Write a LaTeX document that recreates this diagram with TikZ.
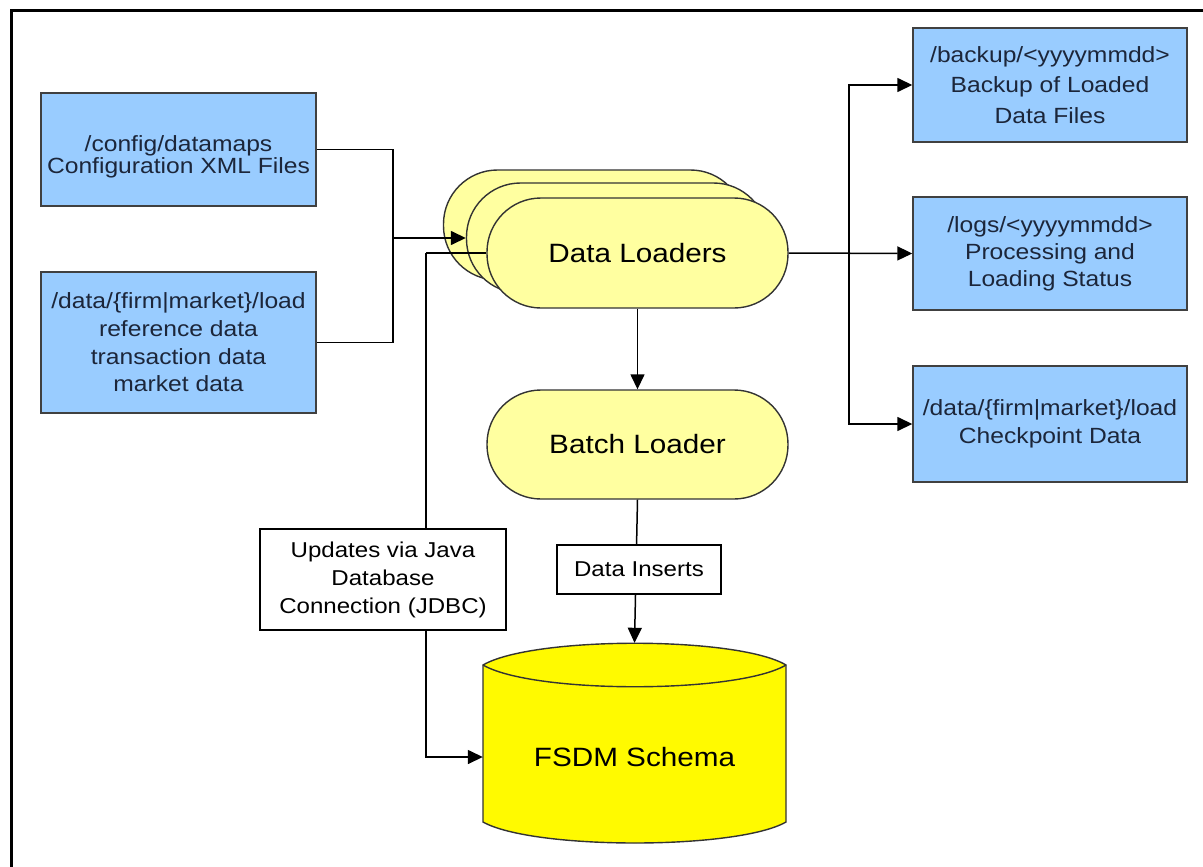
\documentclass[tikz,border=0pt]{standalone}
\usepackage{fontspec}
\setmainfont[FakeStretch=1.12]{Liberation Sans}
\usetikzlibrary{arrows.meta}
\definecolor{boxblue}{RGB}{153,204,255}
\definecolor{lyellow}{RGB}{255,255,160}
\definecolor{cylyellow}{RGB}{255,250,0}
\definecolor{navytext}{RGB}{28,38,58}
\begin{document}
\begin{tikzpicture}[x=1pt,y=-1pt,
  bluebox/.style={draw=black!75,line width=1.4pt,fill=boxblue,text=navytext,align=center,
    font=\fontsize{22}{28}\selectfont,inner sep=0pt,minimum width=275pt},
  boxtext/.style={text=navytext,align=center,inner sep=0pt},
  stadium/.style={draw=black!80,line width=1.4pt,fill=lyellow,rounded corners=54pt,
    minimum width=301pt,minimum height=110pt,font=\fontsize{26.5}{30}\selectfont},
  labelbox/.style={draw=black,line width=1.4pt,fill=white,align=center,
    font=\fontsize{21.5}{28}\selectfont,inner sep=0pt},
  conn/.style={line width=1.5pt,draw=black},
  arr/.style={conn,-{Triangle[length=15pt,width=14pt]}}]
\useasboundingbox (0,0) rectangle (1203,867);
\fill[white] (0,0) rectangle (1203,867);
% outer frame (partly visible)
\draw[line width=3pt] (11.5,870) -- (11.5,10.5) -- (1206,10.5);

% left source boxes
\node[bluebox,minimum height=113pt] (cfg) at (178.5,149.5) {};
\node[boxtext,font=\fontsize{22}{22.3}\selectfont] (cfgtext) at (178.5,156.5) {/config/datamaps\\Configuration XML Files};
\node[bluebox,minimum height=141pt,font=\fontsize{22}{27.7}\selectfont] (data) at (178.5,342.5) {/data/\{firm|market\}/load\\reference data\\transaction data\\market data};

% right target boxes
\node[bluebox,minimum width=274pt,minimum height=114pt,font=\fontsize{22}{30.5}\selectfont] (backup) at (1050,85) {/backup/<yyyymmdd>\\Backup of Loaded\\Data Files};
\node[bluebox,minimum width=274pt,minimum height=113pt,font=\fontsize{22}{27}\selectfont] (logs) at (1050,253.5) {/logs/<yyyymmdd>\\Processing and\\Loading Status};
\node[bluebox,minimum width=274pt,minimum height=116pt] (chk) at (1050,424) {/data/\{firm|market\}/load\\Checkpoint Data};

% data loaders stack
\node[stadium] (dl1) at (594,225) {};
\node[stadium] (dl2) at (617,238) {};
\node[stadium] (dl3) at (637.5,253) {Data Loaders};

% batch loader
\node[stadium,minimum height=109pt] (bl) at (637.5,444.5) {Batch Loader};

% FSDM cylinder
\path[draw=black!80,line width=1.4pt,fill=cylyellow]
  (483,665) .. controls (533,636) and (737,636) .. (786,665) -- (786,822)
  .. controls (737,850) and (533,850) .. (483,822) -- cycle;
\draw[black!80,line width=1.4pt] (483,665) .. controls (533,694) and (737,694) .. (786,665);
\node[minimum width=303pt,minimum height=228pt,inner sep=0pt,font=\fontsize{26.5}{30}\selectfont] (fsdm) at (634.5,757) {FSDM Schema};

% connectors: inputs
\coordinate (jn) at (393,238);
\draw[conn] (cfg.east) -| (jn);
\draw[conn] (data.east) -| (jn);
\draw[arr] (jn) -- (dl2.west);

% outputs
\coordinate (rj) at (849,253);
\draw[arr] (dl3.east) -- (logs.west);
\draw[arr] (rj) |- (backup.west);
\draw[arr] (rj) |- (chk.west);

% loaders -> batch -> schema
\draw[arr] (dl3.south) -- (bl.north);
\draw[arr] (bl.south) -- (fsdm.north);
\node[labelbox,minimum width=164pt,minimum height=49pt] (ins) at (639,569.5) {Data Inserts};

% JDBC path
\coordinate (jl) at (426,253);
\draw[conn] (dl3.west) -- (jl);
\draw[arr] (jl) |- (fsdm.west);
\node[labelbox,minimum width=246pt,minimum height=101pt] (jdbc) at (383,579.5) {Updates via Java\\Database\\Connection (JDBC)};
\end{tikzpicture}
\end{document}
